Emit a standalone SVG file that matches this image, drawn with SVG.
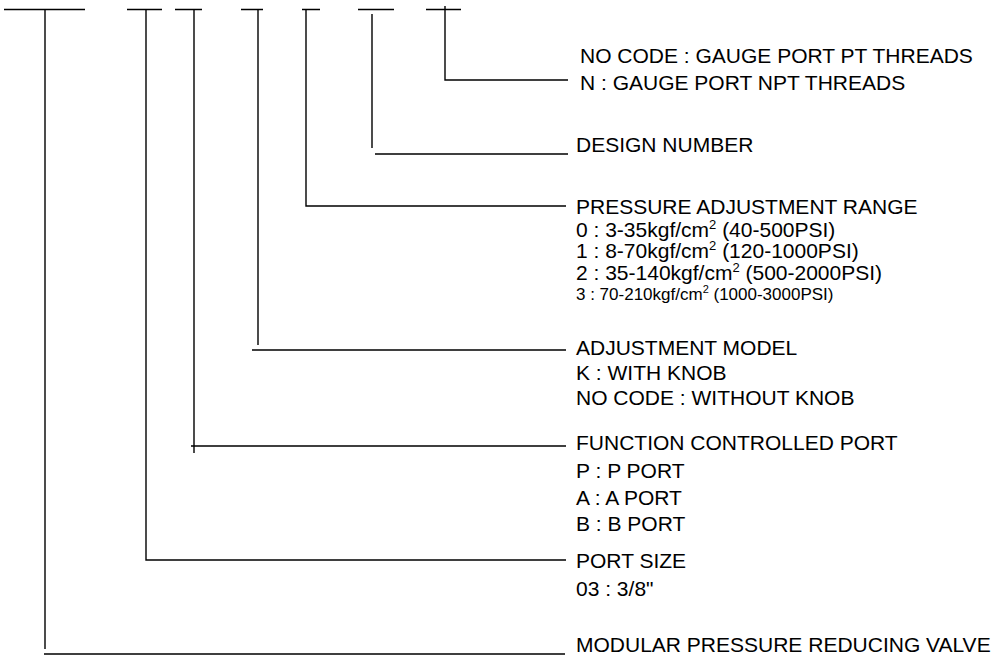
<svg xmlns="http://www.w3.org/2000/svg" width="1005" height="655" viewBox="0 0 1005 655">
<style>
.ln{stroke:#000;stroke-width:1.4;fill:none;stroke-linecap:butt}
text{font-family:"Liberation Sans",Arial,sans-serif;font-size:21px;fill:#000}
.sm{font-size:17px}
.sup{font-size:13px}
.sup2{font-size:11px}
</style>
<rect width="1005" height="655" fill="#fff"/>
<g id="connectors">
<path class="ln" d="M4 9.5H85M127 9.5H162M175 9.5H202M241 9.5H263M302 9.5H320M358 9.5H394M426 9.5H461"/>
<path class="ln" d="M445 6V80H568"/>
<path class="ln" d="M372 14V148M375 154H568"/>
<path class="ln" d="M306 9.5V206H566"/>
<path class="ln" d="M258 9.5V345M252 350H566"/>
<path class="ln" d="M194 9.5V453M191 446H566"/>
<path class="ln" d="M146 9.5V560H566"/>
<path class="ln" d="M45 9.5V649M44 654H565"/>
</g>
<g id="gauge-port">
<text x="580" y="63">NO CODE : GAUGE PORT PT THREADS</text>
<text x="580" y="90">N : GAUGE PORT NPT THREADS</text>
</g>
<g id="design-number">
<text x="576" y="152">DESIGN NUMBER</text>
</g>
<g id="pressure-range">
<text x="576" y="214">PRESSURE ADJUSTMENT RANGE</text>
<text x="576" y="237">0 : 3-35kgf/cm<tspan class="sup" dy="-8">2</tspan><tspan dy="8"> (40-500PSI)</tspan></text>
<text x="576" y="258">1 : 8-70kgf/cm<tspan class="sup" dy="-8">2</tspan><tspan dy="8"> (120-1000PSI)</tspan></text>
<text x="576" y="280">2 : 35-140kgf/cm<tspan class="sup" dy="-8">2</tspan><tspan dy="8"> (500-2000PSI)</tspan></text>
<text class="sm" x="576" y="300">3 : 70-210kgf/cm<tspan class="sup2" dy="-7">2</tspan><tspan dy="7"> (1000-3000PSI)</tspan></text>
</g>
<g id="adjustment-model">
<text x="576" y="355">ADJUSTMENT MODEL</text>
<text x="576" y="380">K : WITH KNOB</text>
<text x="576" y="405">NO CODE : WITHOUT KNOB</text>
</g>
<g id="function-port">
<text x="576" y="450">FUNCTION CONTROLLED PORT</text>
<text x="576" y="478">P : P PORT</text>
<text x="576" y="505">A : A PORT</text>
<text x="576" y="531">B : B PORT</text>
</g>
<g id="port-size">
<text x="576" y="568">PORT SIZE</text>
<text x="576" y="596">03 : 3/8"</text>
</g>
<g id="valve">
<text x="576" y="652">MODULAR PRESSURE REDUCING VALVE</text>
</g>
</svg>
